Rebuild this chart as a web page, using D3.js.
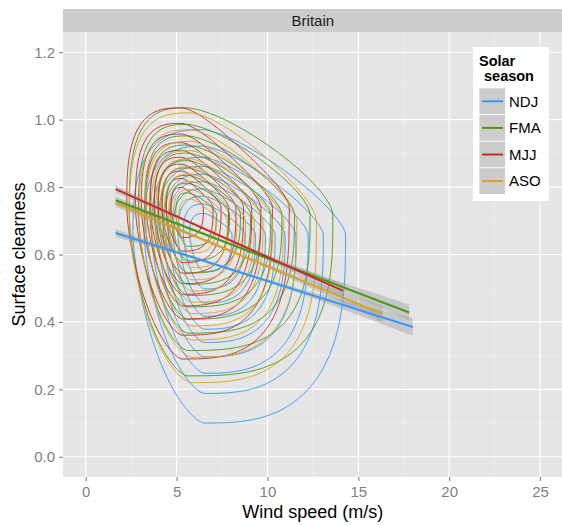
<!DOCTYPE html>
<html><head><meta charset="utf-8">
<script src="https://cdn.jsdelivr.net/npm/d3@7"></script>
<style>body{margin:0;background:#fff}</style>
</head><body>
<svg id="chart" width="562" height="525"></svg>
<script>
// ---------------- data ----------------
const seasons = ["NDJ", "FMA", "MJJ", "ASO"];
const seasonColors = ["#3399FF", "#4A9A16", "#CC2A2A", "#DAA21E"];
const panelTitle = "Britain";
const xTicks = [0, 5, 10, 15, 20, 25];
const yTicks = [0.0, 0.2, 0.4, 0.6, 0.8, 1.0, 1.2];
const xMinor = [2.5, 7.5, 12.5, 17.5, 22.5];
const yMinor = [0.1, 0.3, 0.5, 0.7, 0.9, 1.1];

// linear fits (geom_smooth, method = lm): end points and standard-error half widths
const fitX0 = [1.65, 1.65, 1.65, 1.65];
const fitY0 = [0.664, 0.761, 0.794, 0.752];
const fitX1 = [18.0, 17.8, 14.17, 16.34];
const fitY1 = [0.385, 0.428, 0.492, 0.423];
const fitSeStart = [0.012, 0.011, 0.011, 0.011];
const fitSeMid = [0.004, 0.004, 0.004, 0.004];
const fitSeEnd = [0.027, 0.024, 0.021, 0.024];

// 2-d density of each season:
// mode, and distance from the mode to the outermost contour on each side
const densWind = [6.5, 5.6, 5.3, 5.8];          // mode, wind speed (m/s)
const densClear = [0.66, 0.72, 0.74, 0.70];     // mode, clearness
const reachLeft = [3.9, 3.2, 3.04, 3.4];        // m/s
const reachRight = [7.8, 8.0, 5.9, 6.9];        // m/s
const reachUp = [0.31, 0.315, 0.295, 0.32];     // clearness
const reachDown = [0.56, 0.48, 0.45, 0.48];     // clearness
const densShape = [2.8, 3.0, 3.0, 3.0];         // squareness of the contours
const cutUpperRight = [1.2, 1.3, 1.7, 1.4];     // cut of the upper-right corner
const cutLowerLeft = [0.7, 0.8, 0.9, 0.8];      // cut of the lower-left corner
const contourBins = 11;

// ---------------- layout ----------------
const panel = {left: 63, top: 32, right: 562.7, bottom: 477};
const svg = d3.select("#chart");
const font = "'Liberation Sans', Arial, Helvetica, sans-serif";

const x = d3.scaleLinear().domain([-1.25, 26.25]).range([panel.left, panel.right]);
const y = d3.scaleLinear().domain([-0.06, 1.26]).range([panel.bottom, panel.top]);

// strip
svg.append("rect").attr("x", panel.left).attr("y", 9).attr("width", panel.right - panel.left)
  .attr("height", panel.top - 9).attr("fill", "#CCCCCC");
svg.append("text").attr("x", (panel.left + panel.right) / 2).attr("y", 26.3)
  .attr("text-anchor", "middle").attr("font-family", font).attr("font-size", 15)
  .attr("fill", "#1a1a1a").text(panelTitle);

// panel background
svg.append("rect").attr("x", panel.left).attr("y", panel.top).attr("width", panel.right - panel.left)
  .attr("height", panel.bottom - panel.top).attr("fill", "#E5E5E5");

svg.append("clipPath").attr("id", "clip").append("rect")
  .attr("x", panel.left).attr("y", panel.top).attr("width", panel.right - panel.left)
  .attr("height", panel.bottom - panel.top);

const grid = svg.append("g");
grid.selectAll(".vmin").data(xMinor).join("line")
  .attr("x1", d => x(d)).attr("x2", d => x(d)).attr("y1", panel.top).attr("y2", panel.bottom)
  .attr("stroke", "#F2F2F2").attr("stroke-width", 0.6);
grid.selectAll(".hmin").data(yMinor).join("line")
  .attr("y1", d => y(d)).attr("y2", d => y(d)).attr("x1", panel.left).attr("x2", panel.right)
  .attr("stroke", "#F2F2F2").attr("stroke-width", 0.6);
grid.selectAll(".vmaj").data(xTicks).join("line")
  .attr("x1", d => x(d)).attr("x2", d => x(d)).attr("y1", panel.top).attr("y2", panel.bottom)
  .attr("stroke", "#FFFFFF").attr("stroke-width", 1.2);
grid.selectAll(".hmaj").data(yTicks).join("line")
  .attr("y1", d => y(d)).attr("y2", d => y(d)).attr("x1", panel.left).attr("x2", panel.right)
  .attr("stroke", "#FFFFFF").attr("stroke-width", 1.2);

// ---------------- density contours ----------------
const gx0 = 0, gx1 = 22, gy0 = -0.1, gy1 = 1.3;
const nx = 280, ny = 240;
const dgx = (gx1 - gx0) / (nx - 1), dgy = (gy1 - gy0) / (ny - 1);
const proj = d3.geoTransform({
  point: function(px, py) {
    this.stream.point(x(gx0 + (px - 0.5) * dgx), y(gy0 + (py - 0.5) * dgy));
  }
});
const cpath = d3.geoPath(proj);
const contourG = svg.append("g").attr("clip-path", "url(#clip)");
const outerLevel = 2 * Math.log(contourBins); // level of the outermost contour

seasons.forEach((s, i) => {
  const p = densShape[i];
  const vals = new Float64Array(nx * ny);
  for (let j = 0; j < ny; j++) {
    const cy = gy0 + j * dgy;
    for (let k = 0; k < nx; k++) {
      const wx = gx0 + k * dgx;
      const du = (wx - densWind[i]) / (wx < densWind[i] ? reachLeft[i] : reachRight[i]);
      const dv = (densClear[i] - cy) / (cy > densClear[i] ? reachUp[i] : reachDown[i]);
      let cross = 0;
      if (du > 0 && dv < 0) cross = 2 * cutUpperRight[i] * Math.pow(-du * dv, p / 2);
      else if (du < 0 && dv > 0) cross = 2 * cutLowerLeft[i] * Math.pow(-du * dv, p / 2);
      const np = Math.pow(Math.abs(du), p) + Math.pow(Math.abs(dv), p) + cross;
      const n2 = Math.pow(np, 2 / p);
      vals[j * nx + k] = Math.exp(-outerLevel * n2 / 2);
    }
  }
  const th = d3.range(1, contourBins).map(k => k / contourBins);
  const cs = d3.contours().size([nx, ny]).thresholds(th)(vals);
  contourG.append("g").selectAll("path").data(cs).join("path")
    .attr("d", cpath).attr("fill", "none").attr("stroke", seasonColors[i])
    .attr("stroke-width", 0.95);
});

// ---------------- linear fits ----------------
const fitG = svg.append("g").attr("clip-path", "url(#clip)");
seasons.forEach((s, i) => {
  const line = d3.scaleLinear().domain([fitX0[i], fitX1[i]]).range([fitY0[i], fitY1[i]]);
  const xm = (fitX0[i] + fitX1[i]) / 2;
  const band = [
    {x: fitX0[i], h: fitSeStart[i]},
    {x: xm, h: fitSeMid[i]},
    {x: fitX1[i], h: fitSeEnd[i]}
  ];
  const area = d3.area().x(d => x(d.x)).y0(d => y(line(d.x) - d.h)).y1(d => y(line(d.x) + d.h))
    .curve(d3.curveNatural);
  fitG.append("path").attr("d", area(band)).attr("fill", "#999999").attr("fill-opacity", 0.4);
});
seasons.forEach((s, i) => {
  fitG.append("line")
    .attr("x1", x(fitX0[i])).attr("y1", y(fitY0[i]))
    .attr("x2", x(fitX1[i])).attr("y2", y(fitY1[i]))
    .attr("stroke", seasonColors[i]).attr("stroke-width", 2);
});

// ---------------- axes ----------------
const axG = svg.append("g").attr("font-family", font);
const xAxis = d3.axisBottom(x).tickValues(xTicks).tickSize(4).tickPadding(3).tickFormat(d3.format("d"));
const yAxis = d3.axisLeft(y).tickValues(yTicks).tickSize(4).tickPadding(4).tickFormat(d3.format(".1f"));
const gxA = axG.append("g").attr("transform", `translate(0,${panel.bottom})`).call(xAxis);
const gyA = axG.append("g").attr("transform", `translate(${panel.left},0)`).call(yAxis);
[gxA, gyA].forEach(g => {
  g.select(".domain").remove();
  g.selectAll(".tick line").attr("stroke", "#7F7F7F").attr("stroke-width", 1.1);
  g.selectAll(".tick text").attr("fill", "#7F7F7F").attr("font-size", 15).attr("font-family", font);
});
gxA.selectAll(".tick text").attr("dy", "0.71em").attr("y", 9);

svg.append("text").attr("x", (panel.left + panel.right) / 2).attr("y", 518)
  .attr("text-anchor", "middle").attr("font-family", font).attr("font-size", 18)
  .attr("fill", "#000").text("Wind speed (m/s)");
svg.append("text").attr("transform", `translate(25,${(panel.top + panel.bottom) / 2}) rotate(-90)`)
  .attr("text-anchor", "middle").attr("font-family", font).attr("font-size", 18)
  .attr("fill", "#000").text("Surface clearness");

// ---------------- legend ----------------
const lg = svg.append("g").attr("font-family", font);
lg.append("rect").attr("x", 473).attr("y", 47).attr("width", 76).attr("height", 154).attr("fill", "#FFFFFF");
lg.append("text").attr("x", 479).attr("y", 65.5).attr("font-size", 14.5).attr("font-weight", "bold").text("Solar");
lg.append("text").attr("x", 484).attr("y", 81).attr("font-size", 14.5).attr("font-weight", "bold").text("season");
seasons.forEach((s, i) => {
  const ky = 88 + i * 26.6;
  lg.append("rect").attr("x", 479).attr("y", ky).attr("width", 26.6).attr("height", 26.6)
    .attr("fill", "#CCCCCC").attr("stroke", "#FFFFFF").attr("stroke-width", 0.8);
  lg.append("line").attr("x1", 482).attr("x2", 503).attr("y1", ky + 13.3).attr("y2", ky + 13.3)
    .attr("stroke", seasonColors[i]).attr("stroke-width", 2);
  lg.append("text").attr("x", 509).attr("y", ky + 18.5).attr("font-size", 15).attr("fill", "#000").text(s);
});
</script>
</body></html>
